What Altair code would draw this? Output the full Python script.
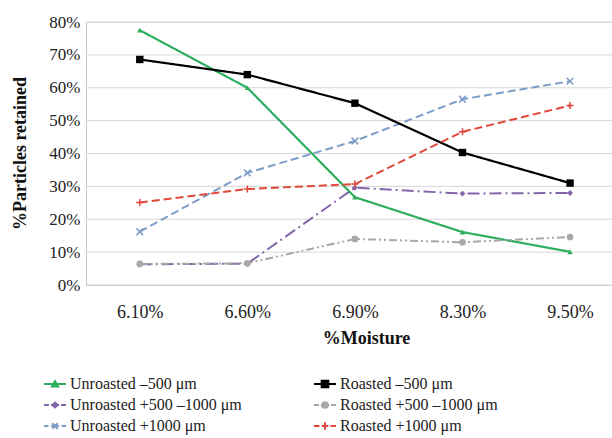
import altair as alt
import pandas as pd

labels = ["6.10%", "6.60%", "6.90%", "8.30%", "9.50%"]
y_ticks = [0.0, 0.1, 0.2, 0.3, 0.4, 0.5, 0.6, 0.7, 0.8]
series_names = [
    "Unroasted –500 μm",
    "Unroasted +500 –1000 μm",
    "Unroasted +1000 μm",
    "Roasted –500 μm",
    "Roasted +500 –1000 μm",
    "Roasted +1000 μm",
]
unroasted_500 = [77.5, 60.0, 26.7, 16.1, 10.1]
unroasted_500_1000 = [6.3, 6.5, 29.6, 27.8, 28.0]
unroasted_1000 = [16.2, 34.1, 43.8, 56.5, 62.0]
roasted_500 = [68.6, 64.0, 55.3, 40.3, 31.0]
roasted_500_1000 = [6.4, 6.6, 14.0, 13.0, 14.6]
roasted_1000 = [25.1, 29.2, 30.7, 46.6, 54.6]

values = [unroasted_500, unroasted_500_1000, unroasted_1000,
          roasted_500, roasted_500_1000, roasted_1000]
colors = ["#2DAE5F", "#8366A8", "#7E9CC8", "#000000", "#A8A8A8", "#E2473B"]
dashes = [[1, 0], [12, 4, 2, 4], [8, 4], [1, 0], [8, 3, 2, 3, 2, 3], [8, 4]]
markers = ["triangle-up", "diamond", "M-1,-1L1,1M1,-1L-1,1",
           "square", "circle", "M-1,0L1,0M0,-1L0,1"]
marker_sizes = [30, 35, 45, 55, 45, 50]
legend_keys = [
    "M-1,0L1,0M-0.28,0.22L0,-0.26L0.28,0.22Z",
    "M-1,0L-0.55,0M-0.38,0L-0.28,0M-0.1,0L0.1,0M0.28,0L0.38,0M0.55,0L1,0M-0.25,0L0,-0.22L0.25,0L0,0.22Z",
    "M-1,0L-0.6,0M-0.35,0L0.35,0M0.6,0L1,0M-0.25,-0.25L0.25,0.25M0.25,-0.25L-0.25,0.25",
    "M-1,0L1,0M-0.3,-0.3L0.3,-0.3L0.3,0.3L-0.3,0.3Z",
    "M-1,0L-0.55,0M-0.38,0L-0.3,0M0.3,0L0.38,0M0.55,0L1,0M-0.26,0A0.26,0.26,0,1,1,0.26,0A0.26,0.26,0,1,1,-0.26,0Z",
    "M-1,0L-0.5,0M-0.3,0L0.3,0M0.5,0L1,0M0,-0.35L0,0.35",
]

rows = []
for name, vals in zip(series_names, values):
    for i, v in enumerate(vals):
        rows.append({"series": name, "idx": i, "val": v / 100.0})
df = pd.DataFrame(rows)
grid_df = pd.DataFrame({"val": y_ticks})

SERIF = "Liberation Serif"
x_label_expr = "[" + ",".join("'%s'" % l for l in labels) + "][round(datum.value)]"

x_scale = alt.Scale(domain=[-0.5, 4.39], nice=False, zero=False)
y_scale = alt.Scale(domain=[0, 0.8], nice=False, zero=True)

x_enc = alt.X("idx:Q", scale=x_scale,
              axis=alt.Axis(values=[0, 1, 2, 3, 4], labelExpr=x_label_expr, grid=False,
                            ticks=False, labelPadding=18, labelFont=SERIF,
                            labelFontSize=18, labelColor="#222",
                            title="%Moisture", titleX=280, titleY=58,
                            titleBaseline="alphabetic", titleFont=SERIF,
                            titleFontSize=18, titleFontWeight="bold",
                            titleColor="#111", domainColor="#C8C8C8"))
y_axis = alt.Axis(values=y_ticks, labelExpr="round(datum.value*100) + '%'",
                  labelOverlap=False, grid=False, ticks=False,
                  labelPadding=6, labelFont=SERIF, labelFontSize=17,
                  labelColor="#222", domainColor="#C8C8C8",
                  title="%Particles retained", titleFont=SERIF,
                  titleFontSize=18, titleFontWeight="bold",
                  titleColor="#111", titleX=-66, titleY=131,
                  titleAngle=-90, titleBaseline="middle")
y_enc = alt.Y("val:Q", scale=y_scale, axis=y_axis)

# horizontal gridlines at the y tick values
grid = alt.Chart(grid_df).mark_rule(color="#D6D6D6", strokeWidth=1).encode(y=y_enc)

base = alt.Chart(df).encode(x=x_enc, y=y_enc)

layers = [grid]
for name, col, dash, mk, ms in zip(series_names, colors, dashes, markers, marker_sizes):
    sub = base.transform_filter(alt.datum.series == name)
    layers.append(sub.mark_line(color=col, strokeDash=dash,
                                strokeWidth=2.2 if dash == [1, 0] else 2.0))
    stroked = mk.startswith("M")
    layers.append(sub.mark_point(shape=mk, size=ms, color=col, opacity=1,
                                 filled=not stroked, strokeWidth=1.5))

legend_layer = base.transform_filter(alt.datum.idx == 0).mark_point(
    size=0, opacity=0, filled=False).encode(
    color=alt.Color("series:N", scale=alt.Scale(domain=series_names, range=colors),
                    legend=alt.Legend(orient="none", legendX=-43, legendY=350,
                                      columns=2, columnPadding=68, rowPadding=1,
                                      title=None, symbolSize=484,
                                      symbolStrokeWidth=2, symbolOpacity=1,
                                      labelFont=SERIF, labelFontSize=16,
                                      labelColor="#222", labelOffset=3,
                                      labelLimit=300)),
    shape=alt.Shape("series:N", scale=alt.Scale(domain=series_names, range=legend_keys)),
    fill=alt.Fill("series:N", scale=alt.Scale(domain=series_names, range=colors),
                  legend=None),
)
layers.append(legend_layer)

chart = alt.layer(*layers).properties(
    width=526, height=263,
    autosize=alt.AutoSizeParams(type="none"),
    padding={"left": 86, "top": 22, "right": 0, "bottom": 153},
).configure_view(stroke=None).configure(background="white").configure_axis(
    labelFont=SERIF, titleFont=SERIF
)

chart.save("out.html", embed_options={"renderer": "svg", "actions": False})
